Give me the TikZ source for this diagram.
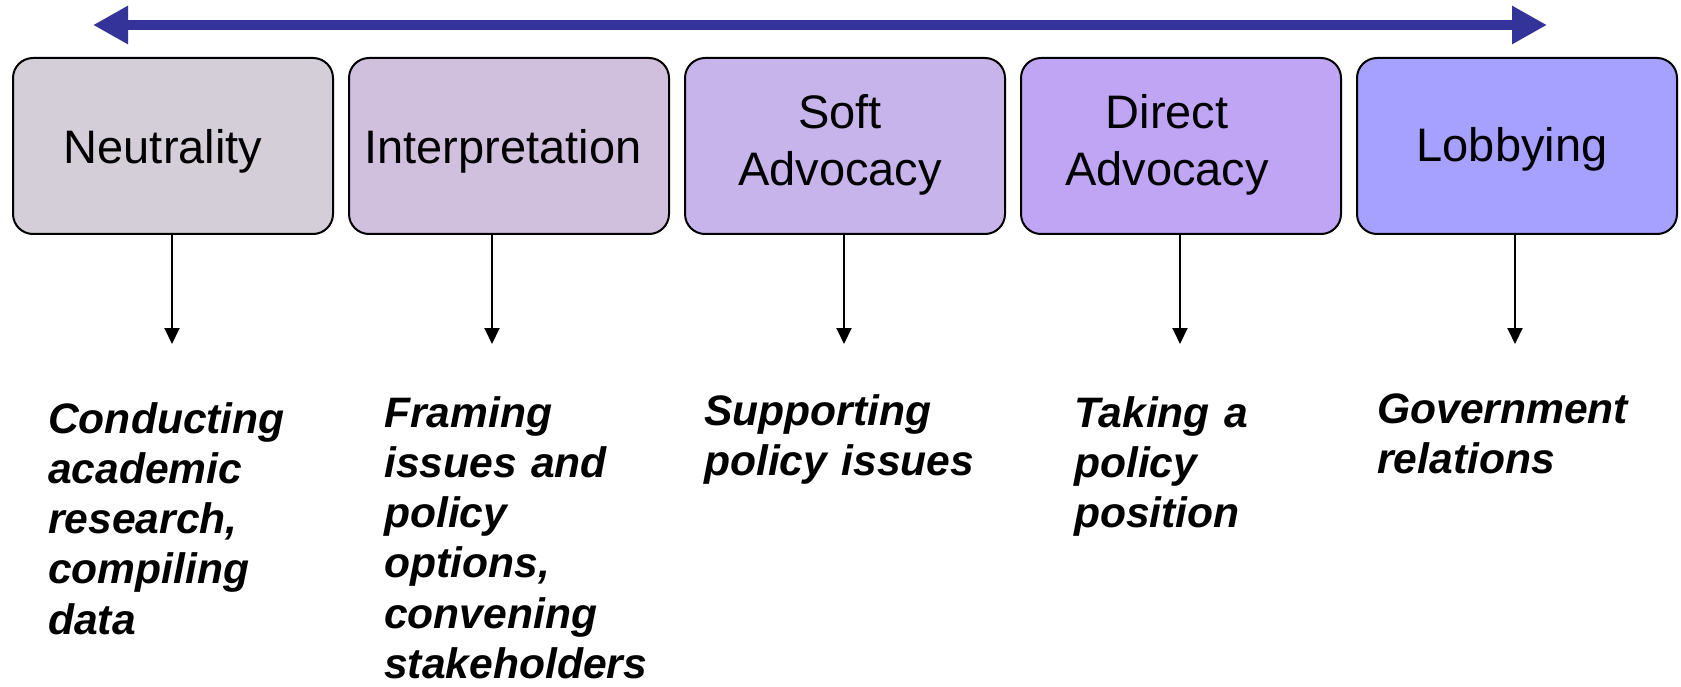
\documentclass[tikz,border=0pt]{standalone}
\usepackage{fontspec}
\setmainfont{Liberation Sans}
\usetikzlibrary{arrows.meta}
\definecolor{topblue}{RGB}{51,51,153}
\definecolor{cA}{RGB}{211,206,216}
\definecolor{cB}{RGB}{208,192,222}
\definecolor{cC}{RGB}{199,180,234}
\definecolor{cD}{RGB}{192,165,245}
\definecolor{cE}{RGB}{166,160,255}
\begin{document}
\begin{tikzpicture}[x=1pt,y=-1pt,
  box/.style={draw=black, line width=2pt, rounded corners=20pt, minimum width=320pt, minimum height=176pt, inner sep=0pt, anchor=north west},
  boxtext/.style={anchor=base, text width=330pt, align=center, inner sep=0pt, font=\fontsize{47}{57}\selectfont},
  desc/.style={anchor=base west, text width=400pt, align=left, inner sep=0pt, font=\fontsize{42.6}{50.3}\selectfont\bfseries\itshape},
  down/.style={-{Triangle[length=16pt,width=15pt]}, line width=2pt},
  span/.style={{Triangle[length=35pt,width=36pt]}-{Triangle[length=35pt,width=36pt]}, line width=10pt, draw=topblue}
]
\useasboundingbox (0,0) rectangle (1681,687);
\fill[white] (0,0) rectangle (1681,687);

% top double arrow
\coordinate (la) at (93,25);
\coordinate (ra) at (1547,25);
\draw[span] (la) -- (ra);

% boxes
\node[box, fill=cA] (b1) at (12,57) {};
\node[box, fill=cB] (b2) at (348,57) {};
\node[box, fill=cC] (b3) at (684,57) {};
\node[box, fill=cD] (b4) at (1020,57) {};
\node[box, fill=cE] (b5) at (1356,57) {};

% box texts
\node[boxtext] (t1) at (163,164) {Neutrality};
\node[boxtext] (t2) at (503,164) {Interpretation};
\node[boxtext] (t3) at (840,129) {Soft\\Advocacy};
\node[boxtext] (t4) at (1167,129) {Direct\\Advocacy};
\node[boxtext] (t5) at (1512,162) {Lobbying};

% arrow ends
\coordinate (e1) at (172,344);
\coordinate (e2) at (492,344);
\coordinate (e3) at (844,344);
\coordinate (e4) at (1180,344);
\coordinate (e5) at (1515,344);
\draw[down] (b1.south -| e1) -- (e1);
\draw[down] (b2.south -| e2) -- (e2);
\draw[down] (b3.south -| e3) -- (e3);
\draw[down] (b4.south -| e4) -- (e4);
\draw[down] (b5.south -| e5) -- (e5);

% descriptions
\node[desc] (d1) at (48,433) {Conducting\\academic\\research,\\compiling\\data};
\node[desc] (d2) at (384,427) {Framing\\issues and\\policy\\options,\\convening\\stakeholders};
\node[desc] (d3) at (704,425) {Supporting\\policy issues};
\node[desc] (d4) at (1074,427) {Taking a\\policy\\position};
\node[desc] (d5) at (1377,423) {Government\\relations};
\end{tikzpicture}
\end{document}
